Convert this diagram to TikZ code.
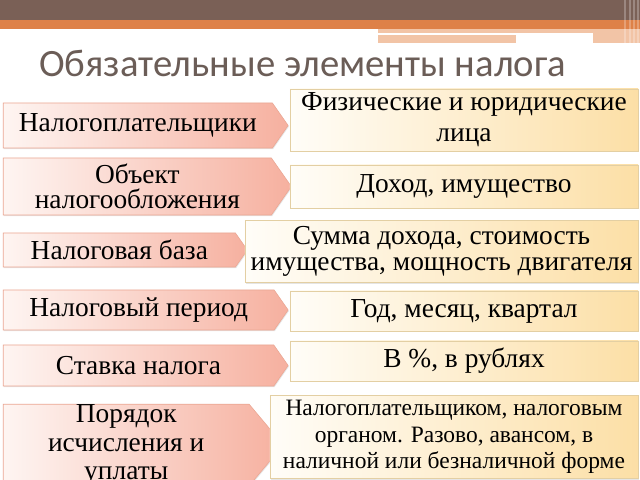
\documentclass[tikz,border=0pt]{standalone}
\usepackage{fontspec}
\setmainfont{Liberation Serif}
\newfontfamily\titlefont{Carlito}
\usetikzlibrary{shapes.symbols, shadows}
\definecolor{bandbrown}{HTML}{7A6056}
\definecolor{bandorange}{HTML}{DE8148}
\definecolor{bandpeach}{HTML}{F2C4A6}
\definecolor{titlegrey}{HTML}{6B5D57}
\definecolor{pinkleft}{HTML}{FEF5F2}
\definecolor{pinkright}{HTML}{F6B09F}
\definecolor{pinkedge}{HTML}{EBA793}
\definecolor{sandleft}{HTML}{FFFDF8}
\definecolor{sandright}{HTML}{FCDFA6}
\definecolor{sandedge}{HTML}{E3CFA3}
\tikzset{
    termbox/.style={signal, signal to=east, signal pointer angle=110, anchor=west, draw=pinkedge, left color=pinkleft, right color=pinkright, align=center, inner sep=0pt, font=\fontsize{19.5}{20.5}\selectfont, drop shadow={opacity=0.2, shadow xshift=0.5pt, shadow yshift=-0.8pt}},
    infobox/.style={rectangle, draw=sandedge, left color=sandleft, right color=sandright, align=center, inner sep=0pt, font=\fontsize{19.5}{22}\selectfont, drop shadow={opacity=0.2, shadow xshift=0.8pt, shadow yshift=-0.8pt}}
}

\begin{document}
\begin{tikzpicture}[x=0.025cm, y=-0.025cm]

    \clip (0,0) rectangle (640,480);
    \fill[white] (0,0) rectangle (640,480);

    % Header bands
    \fill[bandbrown] (0,0) rectangle (640,20);
    \fill[bandorange] (0,20) rectangle (640,29);
    \fill[bandpeach] (378,29) rectangle (640,43);
    \fill[white] (378,33) rectangle (593,35);
    \fill[white] (516,35) rectangle (593,43);
    \foreach \sx in {624,629,633,637}
        \fill[white, opacity=0.25] (\sx,0) rectangle (\sx+2,43);

    % Title
    \node[font=\titlefont\fontsize{27.5}{30}\selectfont, text=titlegrey, anchor=base west, inner sep=0pt] (title) at (39,76) {Обязательные элементы налога};

    % Terms
    \node[termbox, minimum width=7.12cm, minimum height=1.125cm] (T1) at (3,125.5) {Налогоплательщики};
    \node[termbox, minimum width=7.2cm, minimum height=1.425cm, font=\fontsize{19.5}{18}\selectfont] (T2) at (3,186.5) {Объект\\налогообложения};
    \node[termbox, minimum width=6.1cm, minimum height=0.85cm] (T3) at (3,250) {Налоговая база};
    \node[termbox, minimum width=7.12cm, minimum height=1.0cm] (T4) at (3,310) {Налоговый период};
    \node[termbox, minimum width=7.12cm, minimum height=1.025cm] (T5) at (3,365.5) {Ставка налога};
    \node[termbox, minimum width=7.0cm, minimum height=2.0cm, signal pointer angle=100] (T6) at (3,445) {Порядок\\исчисления и\\уплаты};

    % Descriptions
    \node[infobox, minimum width=8.7cm, minimum height=1.55cm] (D1) at (464,120) {Физические и юридические\\лица};
    \node[infobox, minimum width=8.7cm, minimum height=1.075cm] (D2) at (464,186.5) {Доход, имущество};
    \node[infobox, minimum width=9.825cm, minimum height=1.55cm, font=\fontsize{19.5}{19}\selectfont] (D3) at (441.5,251.5) {Сумма дохода, стоимость\\имущества, мощность двигателя};
    \node[infobox, minimum width=8.7cm, minimum height=1.0cm] (D4) at (464,311) {Год, месяц, квартал};
    \node[infobox, minimum width=8.7cm, minimum height=1.0cm] (D5) at (464,361) {В \%, в рублях};
    \node[infobox, minimum width=9.2cm, minimum height=2.075cm, font=\fontsize{16.7}{19}\selectfont] (D6) at (454,437) {Налогоплательщиком, налоговым\\органом. Разово, авансом, в\\наличной или безналичной форме};

\end{tikzpicture}
\end{document}
